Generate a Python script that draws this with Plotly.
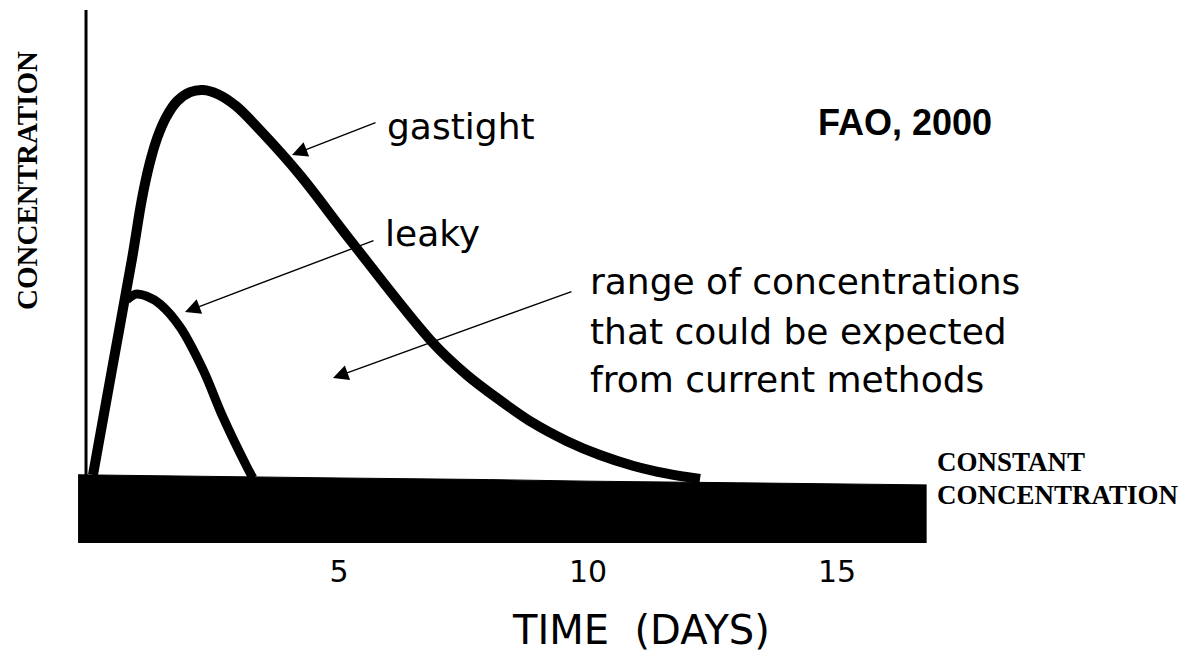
import plotly.graph_objects as go

# ---- data (days, relative concentration) ----
gastight_days = [0.06, 0.44, 0.84, 1.04, 1.19, 1.35, 1.53, 1.75, 2.01, 2.27, 2.57, 2.93,
                 3.41, 4.22, 5.22, 6.89, 7.57, 8.23, 8.90, 9.58, 10.24, 10.90, 11.59, 12.25]
gastight_conc = [12.8, 32.5, 53.1, 64.4, 70.9, 76.0, 79.9, 82.9, 84.6, 85.0, 84.2, 82.0,
                 77.5, 69.0, 56.9, 37.5, 31.5, 26.8, 22.5, 19.1, 16.5, 14.5, 13.0, 12.0]

leaky_days = [0.74, 0.92, 1.14, 1.41, 1.81, 2.27, 2.67, 3.15, 3.27]
leaky_conc = [45.6, 46.7, 46.3, 44.8, 40.5, 32.5, 23.6, 14.3, 12.2]

constant_days = [-0.24, 2.0, 5.0, 8.0, 10.0, 13.0, 15.0, 16.8]
constant_conc = [12.8, 12.6, 12.2, 11.9, 11.6, 11.3, 11.1, 10.9]

tick_vals = [5, 10, 15]
tick_text = ["5", "10", "15"]

# ---- layout geometry (page pixels; the page body adds an 8 px margin) ----
OFF = 8
W, H = 1188 - OFF, 654 - OFF
L, R, T, B = 70, 930, 10, 543
X0 = (L - 90) / 49.8
X1 = (R - 90) / 49.8


def px(xp):
    return (xp - L) / (R - L)


def py(yp):
    return (B - yp) / (B - T)


fig = go.Figure()

fig.add_trace(go.Scatter(
    x=constant_days, y=constant_conc, mode="lines", fill="tozeroy",
    fillcolor="black", line=dict(color="black", width=1), hoverinfo="skip",
    showlegend=False))

fig.add_trace(go.Scatter(
    x=gastight_days, y=gastight_conc, mode="lines",
    line=dict(color="black", width=10, shape="spline", smoothing=1.0),
    showlegend=False))

fig.add_trace(go.Scatter(
    x=leaky_days, y=leaky_conc, mode="lines",
    line=dict(color="black", width=9, shape="spline", smoothing=1.0),
    showlegend=False))

# vertical axis line
fig.add_shape(type="line", xref="x", yref="y", x0=-0.08, x1=-0.08, y0=12, y1=100,
              line=dict(color="black", width=3))

sans = "DejaVu Sans"
serif = "Liberation Serif"
ann = []


def text(t, xp, yp, size, family=sans, xanchor="left", angle=0, bold=False):
    if bold:
        t = "<b>" + t + "</b>"
    ann.append(dict(text=t, x=px(xp), y=py(yp), xref="paper", yref="paper",
                    xanchor=xanchor, yanchor="middle", showarrow=False,
                    textangle=angle, font=dict(family=family, size=size, color="black")))


def arrow(tip_x, tip_y, tail_x, tail_y):
    ann.append(dict(text="", x=px(tip_x), y=py(tip_y), xref="paper", yref="paper",
                    ax=tail_x - tip_x, ay=tail_y - tip_y, showarrow=True,
                    arrowhead=2, arrowsize=2.2, arrowwidth=1.4, arrowcolor="black",
                    standoff=0, startstandoff=0))


text("gastight", 385, 127, 36)
text("leaky", 383, 233, 36)
text("range of concentrations", 588, 281, 36)
text("that could be expected", 588, 331, 36)
text("from current methods", 588, 379, 36)
text("FAO, 2000", 905, 122, 36, family="Liberation Sans", xanchor="center", bold=True)
text("CONSTANT", 935, 462, 27, family=serif, bold=True)
text("CONCENTRATION", 935, 495, 27, family=serif, bold=True)
text("CONCENTRATION", 27, 181, 29, family=serif, xanchor="center", angle=-90, bold=True)
text("TIME\u00a0\u00a0(DAYS)", 641, 630, 40, xanchor="center")

arrow(292, 155, 377, 122)
arrow(185, 312, 375, 240)
arrow(333, 378, 573, 291)

fig.update_layout(
    width=W, height=H,
    margin=dict(l=L - OFF, r=W - (R - OFF), t=T - OFF, b=H - (B - OFF), pad=0),
    paper_bgcolor="white", plot_bgcolor="white",
    annotations=ann,
    xaxis=dict(range=[X0, X1], tickvals=tick_vals, ticktext=tick_text,
               showgrid=False, zeroline=False, showline=False, ticks="",
               ticklabelstandoff=8,
               tickfont=dict(family=sans, size=30, color="black")),
    yaxis=dict(range=[0, 100], showgrid=False, zeroline=False, showline=False,
               showticklabels=False, ticks=""),
)

fig.write_html("out.html")
